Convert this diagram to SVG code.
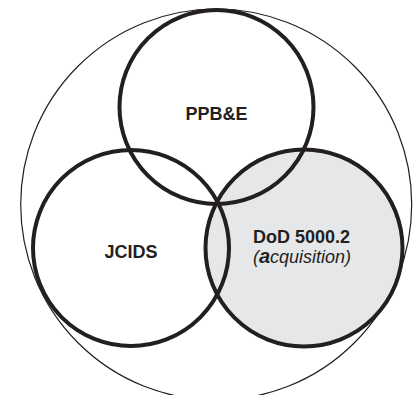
<svg xmlns="http://www.w3.org/2000/svg" width="416" height="395" viewBox="0 0 416 395">
<style>
.ring{fill:none;stroke:#231f20;stroke-width:4}
.lbl{font-family:"Liberation Sans",Arial,sans-serif;font-size:18px;font-weight:bold;fill:#231f20;text-anchor:middle}
.it{font-family:"Liberation Sans",Arial,sans-serif;font-size:18px;font-style:italic;fill:#231f20;text-anchor:middle}
</style>
<rect width="416" height="395" fill="#fff"/>
<g id="outer"><circle cx="216.2" cy="204.5" r="195.5" fill="none" stroke="#231f20" stroke-width="1.2"/></g>
<g id="dod">
<circle cx="304" cy="248" r="98.5" fill="#e6e7e8" stroke="none"/>
</g>
<g id="rings">
<circle class="ring" cx="304" cy="248" r="98.5"/>
<circle class="ring" cx="131" cy="248" r="98"/>
<circle class="ring" cx="216.5" cy="107" r="97"/>
</g>
<g id="ppbe"><text class="lbl" x="216.5" y="120">PPB&amp;E</text></g>
<g id="jcids"><text class="lbl" x="131" y="258">JCIDS</text></g>
<g id="dod-text">
<text class="lbl" x="301.5" y="242.5">DoD 5000.2</text>
<text class="it" x="302" y="262.5">(<tspan font-weight="bold" font-size="20">a</tspan>cquisition)</text>
</g>
</svg>
